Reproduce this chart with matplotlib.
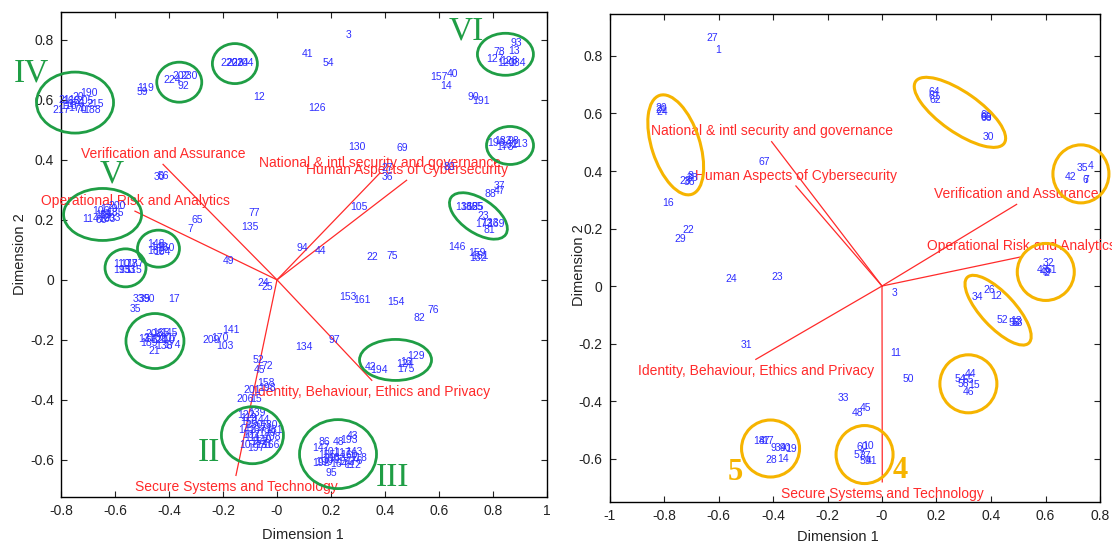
import matplotlib
matplotlib.use('Agg')
import matplotlib.pyplot as plt
from matplotlib.patches import Ellipse
from matplotlib.transforms import Affine2D, ScaledTranslation
import numpy as np

plt.rcParams['font.family'] = ['Liberation Sans', 'DejaVu Sans']

# ---------------- Left biplot data ----------------
left_labels = [
    "3", "41", "54", "126", "12", "130", "69", "105", "94", "44", "22", "75", "27", "36", "80",
    "157", "40", "14", "90", "191",
    "93", "78", "13", "127", "120", "184", "128",
    "196", "183", "162", "98", "178", "113", "37", "47", "88",
    "136", "186", "125", "55", "23", "173", "123", "169", "81", "146", "159", "132", "151",
    "217", "20", "190", "168", "176", "70", "188", "171", "118", "205", "211", "215",
    "119", "59", "224", "202", "230", "92", "220", "223", "214", "204",
    "30", "56", "77", "135", "65", "7", "49",
    "114", "116", "179", "185", "163", "200", "106", "89", "203", "66",
    "148", "149", "182", "104", "160",
    "110", "177", "187", "195", "133", "115",
    "33", "39", "50", "17", "35",
    "137", "208", "165", "145", "189", "121", "210", "174", "21", "138", "216", "207",
    "141", "209", "170", "103", "52", "45", "72", "158", "198", "201", "206", "15",
    "122", "139", "156", "144", "180", "142", "167", "199", "111", "140", "108", "197", "131",
    "119", "150", "171", "102", "152", "166", "181", "107",
    "43", "86", "48", "193", "147", "101", "117", "143", "192", "109", "172", "176", "95",
    "155", "183", "160", "118", "190", "164", "112",
    "134", "97", "153", "161", "154", "76", "82",
    "42", "194", "124", "175", "129", "16", "24", "25",
]
left_x = [
    0.256, 0.093, 0.170, 0.115, -0.089, 0.263, 0.444, 0.270, 0.074, 0.141, 0.330, 0.407, 0.385, 0.389, 0.615,
    0.567, 0.630, 0.604, 0.707, 0.722,
    0.863, 0.800, 0.856, 0.774, 0.815, 0.856, 0.826,
    0.778, 0.804, 0.826, 0.852, 0.811, 0.867, 0.804, 0.804, 0.770,
    0.659, 0.678, 0.700, 0.722, 0.744, 0.733, 0.756, 0.778, 0.763, 0.633, 0.707, 0.711, 0.719,
    -0.830, -0.759, -0.730, -0.796, -0.778, -0.748, -0.719, -0.774, -0.804, -0.744, -0.811, -0.707,
    -0.519, -0.519, -0.422, -0.389, -0.359, -0.367, -0.211, -0.189, -0.170, -0.152,
    -0.456, -0.441, -0.104, -0.133, -0.315, -0.330, -0.200,
    -0.722, -0.674, -0.656, -0.633, -0.663, -0.626, -0.685, -0.656, -0.644, -0.674,
    -0.481, -0.470, -0.481, -0.459, -0.444,
    -0.607, -0.581, -0.559, -0.607, -0.589, -0.563,
    -0.533, -0.511, -0.493, -0.404, -0.544,
    -0.515, -0.489, -0.463, -0.433, -0.507, -0.470, -0.441, -0.422, -0.478, -0.452, -0.496, -0.433,
    -0.204, -0.278, -0.244, -0.226, -0.089, -0.085, -0.056, -0.074, -0.070, -0.126, -0.152, -0.100,
    -0.148, -0.107, -0.137, -0.093, -0.063, -0.144, -0.107, -0.070, -0.122, -0.085, -0.052, -0.111, -0.081,
    -0.137, -0.119, -0.081, -0.130, -0.100, -0.056, -0.044, -0.141,
    0.259, 0.152, 0.207, 0.233, 0.130, 0.167, 0.211, 0.252, 0.130, 0.167, 0.222, 0.252, 0.178,
    0.152, 0.189, 0.233, 0.270, 0.141, 0.196, 0.248,
    0.067, 0.189, 0.230, 0.281, 0.407, 0.556, 0.507,
    0.326, 0.344, 0.441, 0.444, 0.481, 0.456, -0.074, -0.056,
]
left_y = [
    0.815, 0.752, 0.722, 0.572, 0.608, 0.442, 0.438, 0.242, 0.105, 0.095, 0.075, 0.078, 0.372, 0.342, 0.375,
    0.675, 0.685, 0.645, 0.608, 0.595,
    0.788, 0.758, 0.762, 0.735, 0.722, 0.722, 0.728,
    0.455, 0.462, 0.448, 0.462, 0.442, 0.452, 0.312, 0.295, 0.285,
    0.242, 0.242, 0.242, 0.242, 0.212, 0.185, 0.188, 0.185, 0.165, 0.108, 0.088, 0.072, 0.078,
    0.565, 0.608, 0.622, 0.595, 0.585, 0.565, 0.565, 0.572, 0.578, 0.595, 0.598, 0.585,
    0.638, 0.625, 0.665, 0.678, 0.678, 0.645, 0.722, 0.722, 0.722, 0.722,
    0.342, 0.345, 0.222, 0.175, 0.198, 0.168, 0.062,
    0.202, 0.215, 0.235, 0.222, 0.202, 0.245, 0.228, 0.215, 0.205, 0.198,
    0.118, 0.108, 0.095, 0.092, 0.105,
    0.052, 0.052, 0.052, 0.032, 0.032, 0.032,
    -0.065, -0.065, -0.065, -0.065, -0.098,
    -0.198, -0.182, -0.178, -0.178, -0.212, -0.202, -0.202, -0.218, -0.238, -0.222, -0.195, -0.195,
    -0.168, -0.202, -0.195, -0.222, -0.268, -0.302, -0.288, -0.345, -0.362, -0.368, -0.398, -0.398,
    -0.452, -0.445, -0.475, -0.468, -0.485, -0.502, -0.502, -0.512, -0.528, -0.535, -0.525, -0.562, -0.552,
    -0.462, -0.485, -0.495, -0.518, -0.542, -0.552, -0.502, -0.552,
    -0.522, -0.542, -0.542, -0.535, -0.562, -0.575, -0.578, -0.575, -0.612, -0.602, -0.608, -0.605, -0.645,
    -0.585, -0.595, -0.585, -0.595, -0.608, -0.615, -0.618,
    -0.225, -0.202, -0.058, -0.068, -0.075, -0.102, -0.128,
    -0.292, -0.302, -0.282, -0.298, -0.255, -0.275, -0.012, -0.025,
]
left_vars = ["Verification and Assurance", "Operational Risk and Analytics",
             "National & intl security and governance", "Human Aspects of Cybersecurity",
             "Identity, Behaviour, Ethics and Privacy", "Secure Systems and Technology"]
left_var_x = [-0.422, -0.526, 0.381, 0.480, 0.351, -0.152]
left_var_y = [0.385, 0.229, 0.356, 0.332, -0.335, -0.652]

# ---------------- Right biplot data ----------------
right_labels = [
    "27", "1", "20", "21", "24", "28", "36", "38", "8", "67", "16", "22", "29", "24", "23", "31",
    "33", "48", "45",
    "18", "47", "17", "9", "39", "40", "19", "28", "14",
    "60", "10", "57", "37", "59", "41",
    "3", "11", "50", "34", "26", "12", "52", "58", "53", "13",
    "54", "44", "56", "15", "46", "55",
    "32", "43", "49", "2", "51",
    "64", "61", "62", "63", "66", "65", "30",
    "42", "35", "4", "6", "7",
]
right_x = [
    -0.646, -0.613, -0.833, -0.833, -0.826, -0.745, -0.727, -0.716, -0.712, -0.455, -0.807, -0.734, -0.760, -0.576, -0.404, -0.517,
    -0.161, -0.110, -0.081,
    -0.473, -0.451, -0.440, -0.411, -0.393, -0.374, -0.356, -0.429, -0.385,
    -0.092, -0.073, -0.106, -0.081, -0.081, -0.059,
    0.037, 0.029, 0.077, 0.330, 0.371, 0.396, 0.422, 0.466, 0.477, 0.470,
    0.268, 0.305, 0.279, 0.316, 0.297, 0.297,
    0.591, 0.569, 0.580, 0.594, 0.602,
    0.169, 0.169, 0.176, 0.360, 0.360, 0.363, 0.371,
    0.672, 0.716, 0.756, 0.734, 0.738,
]
right_y = [
    0.863, 0.821, 0.619, 0.612, 0.605, 0.365, 0.362, 0.376, 0.383, 0.431, 0.289, 0.195, 0.163, 0.023, 0.031, -0.205,
    -0.390, -0.442, -0.424,
    -0.539, -0.539, -0.539, -0.563, -0.563, -0.563, -0.567, -0.605, -0.602,
    -0.560, -0.557, -0.588, -0.591, -0.609, -0.609,
    -0.024, -0.233, -0.323, -0.038, -0.014, -0.035, -0.118, -0.129, -0.129, -0.122,
    -0.323, -0.306, -0.341, -0.344, -0.369, -0.327,
    0.080, 0.056, 0.049, 0.045, 0.056,
    0.675, 0.661, 0.647, 0.595, 0.584, 0.588, 0.518,
    0.379, 0.410, 0.417, 0.369, 0.369,
]
right_vars = ["National & intl security and governance", "Human Aspects of Cybersecurity",
              "Verification and Assurance", "Operational Risk and Analytics",
              "Identity, Behaviour, Ethics and Privacy", "Secure Systems and Technology"]
right_var_x = [-0.405, -0.316, 0.494, 0.513, -0.463, 0.001]
right_var_y = [0.502, 0.348, 0.284, 0.102, -0.255, -0.681]

# ---------------- Annotations (groups) ----------------
# (centre x, centre y, width px, height px, angle deg)
left_groups = [(-0.748, 0.591, 77, 61, 0), (-0.362, 0.659, 45, 40, 0), (-0.156, 0.721, 45, 40, 0),
               (-0.646, 0.218, 78, 52, 0), (-0.439, 0.104, 42, 37, 0), (-0.561, 0.040, 41, 38, 0),
               (-0.452, -0.204, 58, 55, 0), (-0.091, -0.518, 62, 57, 0), (0.226, -0.581, 77, 69, 0),
               (0.439, -0.267, 72, 41, 0), (0.846, 0.752, 56, 42, 0), (0.863, 0.448, 47, 38, 0),
               (0.746, 0.213, 66, 34, -34)]
left_group_names = ["IV", "V", "VI", "II", "III"]
left_group_x = [-0.909, -0.612, 0.700, -0.252, 0.426]
left_group_y = [0.690, 0.352, 0.828, -0.577, -0.660]

right_groups = [(-0.757, 0.491, 104, 48, -72), (0.286, 0.604, 108, 40, -35), (0.730, 0.390, 56, 58, 0),
                (0.601, 0.049, 57, 57, 0), (0.426, -0.084, 90, 34, -47), (0.317, -0.340, 57, 58, 0),
                (-0.064, -0.586, 57, 58, 0), (-0.409, -0.565, 58, 57, 0)]
right_group_names = ["4", "5"]
right_group_x = [0.066, -0.539]
right_group_y = [-0.640, -0.650]

BLUE = '#2e2eff'
RED = '#ff2a2a'
GREEN = '#1f9e45'
ORANGE = '#f6b400'

fig = plt.figure(figsize=(11.12, 5.46), dpi=100)
ax1 = fig.add_axes([61 / 1112, 49 / 546, 486 / 1112, 485 / 546])
ax2 = fig.add_axes([609.5 / 1112, 44 / 546, 490.5 / 1112, 488 / 546])


def biplot(ax, labels, xs, ys, vnames, vx, vy, xlim, ylim, xticks, yticks):
    for name, x, y in zip(vnames, vx, vy):
        ax.plot([0, x], [0, y], color=RED, lw=0.9, zorder=2)
        dy = 7.5 if y > 0 else -8.5
        ax.annotate(name, (x, y), xytext=(0, dy), textcoords='offset points',
                    ha='center', va='center', color=RED, fontsize=10, zorder=3,
                    annotation_clip=False)
    for lab, x, y in zip(labels, xs, ys):
        ax.text(x, y, lab, color=BLUE, fontsize=7.5, ha='left', va='center', zorder=4)
    ax.set_xlim(*xlim)
    ax.set_ylim(*ylim)
    ax.set_xticks(xticks)
    ax.set_xticklabels([f"{v:g}" for v in np.round(xticks, 1)])
    ax.set_yticks(yticks)
    ax.set_yticklabels([f"{v:g}" for v in np.round(yticks, 1)])
    ax.tick_params(direction='in', top=True, right=True, length=4, width=0.8,
                   labelsize=10, pad=5, colors='#222222')
    for s in ax.spines.values():
        s.set_linewidth(1.0)
    ax.set_xlabel('Dimension 1', fontsize=10.5, color='#222222')
    ax.set_ylabel('Dimension 2', fontsize=10.5, color='#222222')


def groups(ax, specs, color, lw):
    for cx, cy, w, h, ang in specs:
        tr = Affine2D().scale(1 / 100) + fig.dpi_scale_trans + ScaledTranslation(cx, cy, ax.transData)
        e = Ellipse((0, 0), w, h, angle=ang, transform=tr, fill=False,
                    edgecolor=color, lw=lw, clip_on=False, zorder=5)
        ax.add_patch(e)


biplot(ax1, left_labels, left_x, left_y, left_vars, left_var_x, left_var_y,
       (-0.8, 1.0), (-0.724, 0.893), np.arange(-0.8, 1.01, 0.2), np.arange(-0.6, 0.81, 0.2))
biplot(ax2, right_labels, right_x, right_y, right_vars, right_var_x, right_var_y,
       (-1.0, 0.8), (-0.751, 0.946), np.arange(-1.0, 0.81, 0.2), np.arange(-0.6, 0.81, 0.2))

groups(ax1, left_groups, GREEN, 2.0)
groups(ax2, right_groups, ORANGE, 2.2)
ax1.set_xlim(-0.8, 1.0); ax1.set_ylim(-0.724, 0.893)
ax2.set_xlim(-1.0, 0.8); ax2.set_ylim(-0.751, 0.946)

for n, x, y in zip(left_group_names, left_group_x, left_group_y):
    ax1.text(x, y, n, family='Liberation Serif', fontsize=24, color=GREEN,
             ha='center', va='center', clip_on=False, zorder=6)
for n, x, y in zip(right_group_names, right_group_x, right_group_y):
    ax2.text(x, y, n, family='Liberation Serif', fontsize=22, fontweight='bold', color=ORANGE,
             ha='center', va='center', clip_on=False, zorder=6)

ax1.xaxis.set_label_coords(0.498, -0.064)
ax1.yaxis.set_label_coords(-0.070, 0.5)
ax2.xaxis.set_label_coords(0.466, -0.058)
ax2.yaxis.set_label_coords(-0.048, 0.486)

fig.savefig('out.png', dpi=100)
